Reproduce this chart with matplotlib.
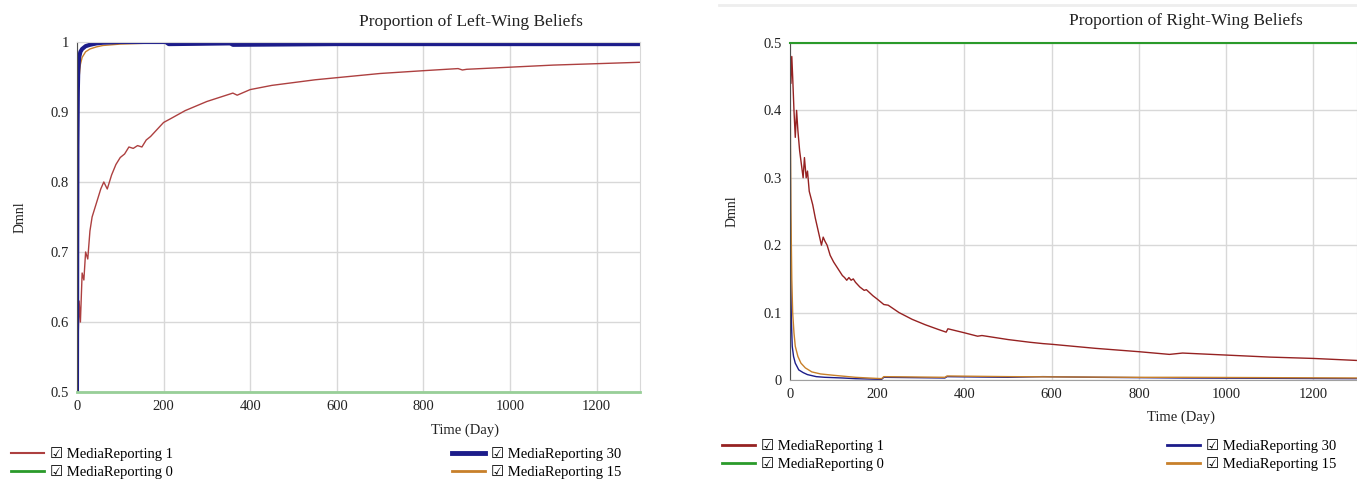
import numpy as np
import matplotlib
matplotlib.use("Agg")
from matplotlib import pyplot as plt
from matplotlib.lines import Line2D
from matplotlib.ticker import FuncFormatter

# ================================================================
# 0. Section: DATA
# ================================================================
series_names = ["MediaReporting 1", "MediaReporting 0", "MediaReporting 30", "MediaReporting 15"]
x_ticks = [0, 200, 400, 600, 800, 1000, 1200]

# left panel: proportion of left-wing beliefs
left_t_mr1 = [0, 2, 5, 8, 12, 16, 20, 25, 30, 35, 45, 55, 62, 70, 80, 90, 100, 110, 120,
              130, 140, 150, 160, 170, 185, 200, 215, 250, 300, 350, 360, 370, 400, 450,
              500, 550, 600, 700, 800, 880, 890, 900, 1000, 1100, 1200, 1300]
left_v_mr1 = [0.5, 0.56, 0.63, 0.60, 0.67, 0.66, 0.70, 0.69, 0.73, 0.75, 0.77, 0.79, 0.80,
              0.79, 0.81, 0.825, 0.835, 0.84, 0.85, 0.848, 0.852, 0.85, 0.86, 0.865, 0.875,
              0.885, 0.89, 0.902, 0.915, 0.925, 0.927, 0.924, 0.932, 0.938, 0.942, 0.946,
              0.949, 0.955, 0.959, 0.962, 0.960, 0.961, 0.964, 0.967, 0.969, 0.971]

left_t_mr0 = [0, 1300]
left_v_mr0 = [0.5, 0.5]

left_t_mr30 = [0, 1, 2, 3, 5, 8, 12, 20, 30, 45, 60, 100, 150, 205, 212, 350, 355, 360,
               600, 900, 1300]
left_v_mr30 = [0.5, 0.85, 0.93, 0.96, 0.978, 0.986, 0.99, 0.994, 0.996, 0.998, 0.999,
               1.0, 1.0, 1.0, 0.997, 0.998, 0.998, 0.996, 0.997, 0.997, 0.997]

left_t_mr15 = [0, 1, 2, 3, 5, 8, 12, 20, 30, 45, 60, 100, 150, 205, 212, 350, 355, 360,
               600, 900, 1300]
left_v_mr15 = [0.5, 0.75, 0.87, 0.92, 0.95, 0.968, 0.978, 0.986, 0.99, 0.993, 0.995,
               0.997, 0.998, 0.999, 0.996, 0.997, 0.997, 0.996, 0.997, 0.997, 0.997]

# right panel: proportion of right-wing beliefs
right_t_mr1 = [0, 2, 4, 6, 9, 12, 15, 18, 22, 26, 30, 33, 37, 40, 44, 48, 52, 58, 65, 72,
               76, 80, 85, 92, 100, 110, 120, 125, 130, 135, 140, 145, 150, 160, 170, 175,
               190, 200, 215, 225, 250, 280, 310, 340, 358, 362, 400, 430, 440, 500, 550,
               580, 600, 700, 800, 870, 900, 1000, 1100, 1200, 1300]
right_v_mr1 = [0.5, 0.44, 0.48, 0.45, 0.40, 0.36, 0.40, 0.37, 0.34, 0.32, 0.30, 0.33, 0.30,
               0.31, 0.28, 0.27, 0.26, 0.24, 0.22, 0.20, 0.212, 0.206, 0.20, 0.185, 0.175,
               0.165, 0.155, 0.152, 0.148, 0.152, 0.148, 0.15, 0.145, 0.138, 0.133, 0.134,
               0.125, 0.12, 0.112, 0.111, 0.1, 0.09, 0.082, 0.075, 0.071, 0.076, 0.07,
               0.065, 0.066, 0.06, 0.056, 0.054, 0.053, 0.047, 0.042, 0.038, 0.040, 0.037,
               0.034, 0.032, 0.029]

right_t_mr0 = [0, 1300]
right_v_mr0 = [0.5, 0.5]

right_t_mr30 = [0, 1, 2, 3, 5, 8, 12, 20, 30, 40, 60, 80, 120, 150, 210, 215, 355, 360,
                500, 580, 700, 900, 1300]
right_v_mr30 = [0.5, 0.25, 0.14, 0.09, 0.05, 0.035, 0.025, 0.015, 0.011, 0.008, 0.005,
                0.004, 0.003, 0.002, 0.001, 0.004, 0.003, 0.005, 0.004, 0.005, 0.004,
                0.003, 0.002]

right_t_mr15 = [0, 1, 2, 4, 6, 9, 12, 18, 25, 35, 50, 70, 100, 150, 210, 215, 355, 360,
                500, 800, 900, 1300]
right_v_mr15 = [0.5, 0.35, 0.25, 0.15, 0.1, 0.07, 0.05, 0.035, 0.025, 0.018, 0.012, 0.009,
                0.007, 0.004, 0.002, 0.005, 0.004, 0.006, 0.005, 0.004, 0.004, 0.003]

# ================================================================
# 1. Section: STYLE
# ================================================================
plt.rcParams["font.family"] = ["Liberation Serif", "DejaVu Sans"]

RED = "#ad4040"
RED_DARK = "#962222"
GREEN = "#2a9a2a"
GREEN_LIGHT = "#98cf98"
NAVY = "#1c1c8a"
ORANGE = "#c8802a"
GRID = "#d8d8d8"
TEXT = "#222222"


def style_axes(ax, ylim, yticks):
    ax.set_xlim(0, 1300)
    ax.set_ylim(*ylim)
    ax.set_xticks(x_ticks)
    ax.set_yticks(yticks)
    ax.yaxis.set_major_formatter(FuncFormatter(lambda v, p: f"{v:g}"))
    ax.tick_params(length=0, labelsize=10.5, colors=TEXT, pad=6)
    ax.grid(True, color=GRID, linewidth=1.0)
    ax.set_axisbelow(True)
    for side in ["top", "right"]:
        ax.spines[side].set_color(GRID)
    ax.spines["bottom"].set_color("#a0a0a0")
    ax.spines["left"].set_color("#505050")
    ax.set_xlabel("Time (Day)", fontsize=10.5, color=TEXT)
    ax.xaxis.set_label_coords(0.69, -0.09)
    ax.set_ylabel("Dmnl", fontsize=10, color=TEXT)
    ax.yaxis.set_label_coords(-0.09, 0.5)


def add_legends(fig, ax, lines, x_left, x_right, y_top):
    labels = ["\u2611 " + name for name in series_names]
    kw = dict(
        loc="upper left",
        bbox_transform=fig.transFigure,
        frameon=False,
        fontsize=10.5,
        handlelength=2.25,
        handletextpad=0.4,
        labelspacing=0.28,
        borderpad=0,
        borderaxespad=0,
    )
    leg1 = ax.legend(lines[:2], labels[:2], bbox_to_anchor=(x_left, y_top), **kw)
    ax.add_artist(leg1)
    ax.legend(lines[2:], labels[2:], bbox_to_anchor=(x_right, y_top), **kw)


# ================================================================
# 2. Section: FIGURE
# ================================================================
fig = plt.figure(figsize=(13.57, 4.82), dpi=100)

ax_l = fig.add_axes((0.0567, 0.1867, 0.4149, 0.7262))
ax_r = fig.add_axes((0.5822, 0.2116, 0.4178, 0.6992))

# ──────────────────────────────────────────────────────
# 2.1 Subsection: Left-wing panel
# ──────────────────────────────────────────────────────
ax_l.plot(left_t_mr1, left_v_mr1, color=RED, linewidth=1.0)
ax_l.plot(left_t_mr0, left_v_mr0, color=GREEN_LIGHT, linewidth=2.0, clip_on=False, zorder=3)
ax_l.plot(left_t_mr15, left_v_mr15, color=ORANGE, linewidth=1.0)
ax_l.plot(left_t_mr30, left_v_mr30, color=NAVY, linewidth=3.0)

style_axes(ax_l, (0.5, 1.0), [0.5, 0.6, 0.7, 0.8, 0.9, 1.0])
fig.text(0.347, 0.955, "Proportion of Left-Wing Beliefs", fontsize=12.5, color=TEXT,
         va="center", ha="center")

leg_lines_l = [
    Line2D([], [], color=RED, linewidth=1.5),
    Line2D([], [], color=GREEN, linewidth=2.0),
    Line2D([], [], color=NAVY, linewidth=3.5),
    Line2D([], [], color=ORANGE, linewidth=2.0),
]
add_legends(fig, ax_l, leg_lines_l, 0.008, 0.333, 0.072)

# ──────────────────────────────────────────────────────
# 2.2 Subsection: Right-wing panel
# ──────────────────────────────────────────────────────
ax_r.plot(right_t_mr1, right_v_mr1, color=RED_DARK, linewidth=1.0)
ax_r.plot(right_t_mr0, right_v_mr0, color=GREEN, linewidth=1.5, clip_on=False, zorder=3)
ax_r.plot(right_t_mr30, right_v_mr30, color=NAVY, linewidth=1.0)
ax_r.plot(right_t_mr15, right_v_mr15, color=ORANGE, linewidth=1.0)

style_axes(ax_r, (0.0, 0.5), [0.0, 0.1, 0.2, 0.3, 0.4, 0.5])
fig.text(0.874, 0.957, "Proportion of Right-Wing Beliefs", fontsize=12.5, color=TEXT,
         va="center", ha="center")

leg_lines_r = [
    Line2D([], [], color=RED_DARK, linewidth=2.0),
    Line2D([], [], color=GREEN, linewidth=2.0),
    Line2D([], [], color=NAVY, linewidth=2.0),
    Line2D([], [], color=ORANGE, linewidth=2.0),
]
add_legends(fig, ax_r, leg_lines_r, 0.532, 0.86, 0.089)

# faint separator line above the right panel
fig.add_artist(Line2D([0.53, 1.0], [0.99, 0.99], color="#eeeeee", linewidth=2,
                      transform=fig.transFigure))

fig.savefig("out.png", dpi=100)
